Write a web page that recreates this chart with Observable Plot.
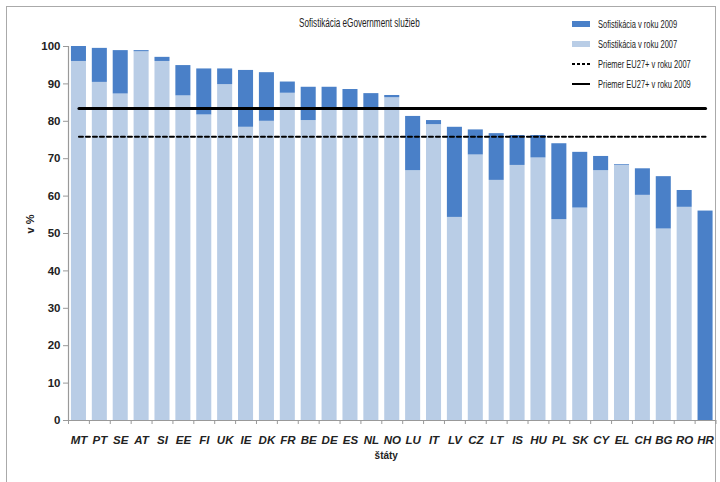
<!DOCTYPE html>
<html><head><meta charset="utf-8">
<script src="https://cdn.jsdelivr.net/npm/d3@7"></script>
<script src="https://cdn.jsdelivr.net/npm/@observablehq/plot@0.6"></script>
<style>
  html,body{margin:0;padding:0;background:#fff;}
  #wrap{position:relative;width:720px;height:482px;overflow:hidden;font-family:"Liberation Sans Narrow","Arial Narrow","Liberation Sans",sans-serif;}
  #frame{position:absolute;left:6px;top:6px;width:710px;height:490px;border:1.5px solid #aaa;box-sizing:border-box;}
  #title{position:absolute;left:0;width:720px;top:16px;text-align:center;font-size:12px;color:#222;transform:scaleX(0.68);transform-origin:358px 0;}
  #legend{position:absolute;left:572px;top:14px;font-size:10px;color:#222;}
  .li{height:20px;display:flex;align-items:center;}
  .sw{width:18px;margin-right:8px;flex:none;}
  .lt{display:inline-block;transform:scaleX(0.75);transform-origin:0 50%;white-space:nowrap;}
  #chart{position:absolute;left:0;top:0;}
</style></head>
<body><div id="wrap"><div id="frame"></div><div id="chart"></div>
<div id="title">Sofistikácia eGovernment služieb</div>
<div id="legend">
 <div class="li"><svg class="sw" width="18" height="6"><rect x="0" y="0" width="18" height="6" fill="#4a80c8"/></svg><span class="lt">Sofistikácia v roku 2009</span></div>
 <div class="li"><svg class="sw" width="18" height="6"><rect x="0" y="0" width="18" height="6" fill="#b9cde6"/></svg><span class="lt">Sofistikácia v roku 2007</span></div>
 <div class="li"><svg class="sw" width="18" height="4"><line x1="0" y1="2" x2="18" y2="2" stroke="#000" stroke-width="2" stroke-dasharray="3,2"/></svg><span class="lt">Priemer EU27+ v roku 2007</span></div>
 <div class="li"><svg class="sw" width="18" height="4"><line x1="0" y1="2" x2="18" y2="2" stroke="#000" stroke-width="2"/></svg><span class="lt">Priemer EU27+ v roku 2009</span></div>
</div></div>
<script>
const countries = ["MT","PT","SE","AT","SI","EE","FI","UK","IE","DK","FR","BE","DE","ES","NL","NO","LU","IT","LV","CZ","LT","IS","HU","PL","SK","CY","EL","CH","BG","RO","HR"];
const v2007 = [96,90.4,87.3,98.6,96,86.8,81.7,89.8,78.4,80,87.5,80.2,83.5,83,83,86.3,66.8,79.1,54.3,71,64.2,68.2,70.2,53.7,56.8,66.8,68.2,60.2,51.2,57,0];
const v2009 = [100,99.5,98.9,98.9,97.1,94.9,94,94,93.6,93,90.5,89.1,89.1,88.5,87.4,86.9,81.3,80.2,78.4,77.7,76.7,76.2,76.2,74,71.7,70.6,68.4,67.3,65.2,61.5,56];
const avg2007 = 75.9;
const avg2009 = 83.4;
const yTicks = [0,10,20,30,40,50,60,70,80,90,100];

const rows = countries.map((c,i)=>({c, a:v2007[i], b:v2009[i]}));
const dark = "#4a80c8", light = "#b9cde6";
const step = (720-68-4.5)/countries.length;

const chart = Plot.plot({
  width: 720, height: 482,
  marginLeft: 68, marginRight: 4.5, marginTop: 46, marginBottom: 62,
  style: {background:"transparent", fontFamily:"'Liberation Sans Narrow','Arial Narrow','Liberation Sans',sans-serif"},
  x: {domain: countries, paddingInner: 0.28, paddingOuter: 0.14, align: 0.5, round: false, label: null},
  y: {domain: [0,100], label: null},
  marks: [
    Plot.barY(rows, {x:"c", y1:0, y2:"a", fill: light}),
    Plot.barY(rows, {x:"c", y1:"a", y2:"b", fill: dark}),
    Plot.lineY(countries, {x: d=>d, y: ()=>avg2007, stroke:"#000", strokeWidth:2, strokeDasharray:"4,3"}),
    Plot.lineY(countries, {x: d=>d, y: ()=>avg2009, stroke:"#000", strokeWidth:3}),
    Plot.ruleY([0], {stroke:"#999", strokeWidth:1.2}),
    Plot.ruleX(countries, {x: d=>d, y1:0, y2:0, insetBottom:-4, dx:-step/2, stroke:"#999"}),
    Plot.ruleX([countries[countries.length-1]], {x: d=>d, y1:0, y2:0, insetBottom:-4, dx:step/2, stroke:"#999"}),
    Plot.axisY(yTicks, {anchor:"left", tickSize:5, tickPadding:3, stroke:"#999", fontSize:11.5, fontWeight:"bold", fill:"#222", label:null}),
    Plot.frame({anchor:"left", stroke:"#999", strokeWidth:1.2}),
    Plot.axisX({anchor:"bottom", tickSize:0, tickPadding:15, fontSize:11.5, fontWeight:"bold", fontStyle:"italic", fill:"#222", label:null}),
    Plot.text(["v %"], {frameAnchor:"left", dx:-38, rotate:-90, fontSize:11, fontWeight:"bold", fill:"#222"}),
    Plot.text(["štáty"], {frameAnchor:"bottom", dy:38, dx:-6, fontSize:10, fontWeight:"bold", fill:"#222"})
  ]
});
document.getElementById("chart").appendChild(chart);
</script></body></html>
